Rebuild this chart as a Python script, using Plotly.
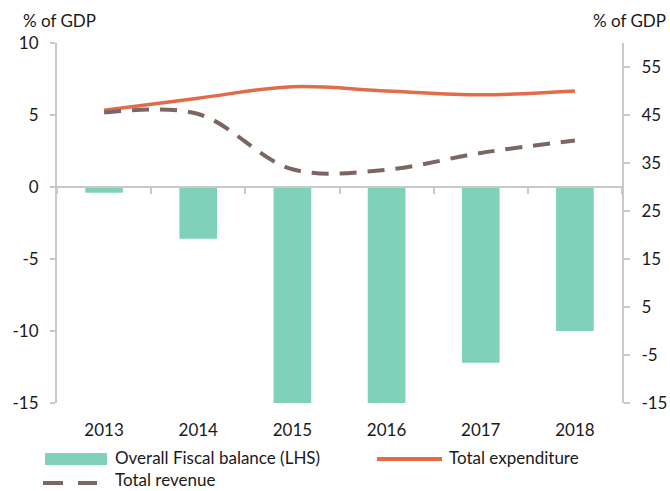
import plotly.graph_objects as go

years = ["2013", "2014", "2015", "2016", "2017", "2018"]
fiscal_balance = [-0.4, -3.6, -15.2, -15.2, -12.2, -10.0]
total_expenditure = [46.0, 48.5, 50.9, 50.0, 49.2, 50.0]
total_revenue = [45.5, 45.2, 33.7, 33.6, 37.1, 39.7]
left_ticks = [-15, -10, -5, 0, 5, 10]
right_ticks = [-15, -5, 5, 15, 25, 35, 45, 55]

BAR = "#7fd1b9"
EXP = "#e06c4a"
REV = "#7b6663"
AX = "#c9c9c9"
FONT = "Lato"
TXT = "#1a1a1a"
FS = 17

fig = go.Figure()
fig.add_trace(go.Bar(x=years, y=fiscal_balance, xaxis="x", yaxis="y",
                     marker=dict(color=BAR, line=dict(width=0)), width=0.4,
                     cliponaxis=False, name="Overall Fiscal balance (LHS)", showlegend=False))
fig.add_trace(go.Scatter(x=years, y=total_expenditure, xaxis="x", yaxis="y2", mode="lines",
                         line=dict(color=EXP, width=3.5, shape="spline", smoothing=1),
                         name="Total expenditure", showlegend=False))
fig.add_trace(go.Scatter(x=years, y=total_revenue, xaxis="x", yaxis="y2", mode="lines",
                         line=dict(color=REV, width=4, shape="spline", smoothing=1, dash="17px,11px"),
                         name="Total revenue", showlegend=False))
# helper (invisible) trace so the zero-line category axis is drawn
fig.add_trace(go.Scatter(x=years, y=fiscal_balance, xaxis="x2", yaxis="y", mode="markers",
                         marker=dict(opacity=0), hoverinfo="skip", showlegend=False))

L, R, T, B = 57, 48, 43, 88
W, H = 670, 491
pw = W - L - R
ph = H - T - B

def px(x):
    return (x - L) / pw

def py(y):
    return (H - B - y) / ph

fig.update_layout(
    width=W, height=H,
    margin=dict(l=L, r=R, t=T, b=B, autoexpand=False),
    plot_bgcolor="white", paper_bgcolor="white",
    font=dict(family=FONT, size=FS, color=TXT),
    xaxis=dict(type="category", categoryarray=years, range=[-0.5, 5.5], automargin=False,
               showline=False, showgrid=False, zeroline=False, ticks="",
               ticklabelstandoff=15, tickfont=dict(size=FS, color=TXT)),
    xaxis2=dict(type="category", categoryarray=years, range=[-0.5, 5.5], automargin=False,
                overlaying="x", anchor="free", position=0.6,
                showline=True, linecolor=AX, linewidth=2, ticks="outside",
                tickson="boundaries", ticklen=6, tickcolor=AX, tickwidth=2,
                showticklabels=False, showgrid=False, zeroline=False),
    yaxis=dict(range=[-15, 10], tickvals=left_ticks, ticktext=[str(v) for v in left_ticks],
               automargin=False, showline=True, linecolor=AX, linewidth=2,
               ticks="outside", ticklen=5, tickcolor=AX, tickwidth=2, showgrid=False,
               zeroline=False, ticklabelstandoff=8, tickfont=dict(size=FS, color=TXT)),
    yaxis2=dict(range=[-15, 60], tickvals=right_ticks, ticktext=[str(v) for v in right_ticks],
                automargin=False, overlaying="y", side="right",
                showline=True, linecolor=AX, linewidth=2, ticks="outside", ticklen=6,
                tickcolor=AX, tickwidth=2, showgrid=False, zeroline=False,
                ticklabelstandoff=8, tickfont=dict(size=FS, color=TXT)),
    showlegend=False,
)

# axis titles
fig.add_annotation(text="% of GDP", xref="paper", yref="paper", x=px(21), y=py(20),
                   xanchor="left", yanchor="middle", showarrow=False, font=dict(size=FS, color=TXT))
fig.add_annotation(text="% of GDP", xref="paper", yref="paper", x=px(668), y=py(20),
                   xanchor="right", yanchor="middle", showarrow=False, font=dict(size=FS, color=TXT))

# legend (manual)
fig.add_shape(type="rect", xref="paper", yref="paper", x0=px(45), x1=px(107), y0=py(465), y1=py(453),
              fillcolor=BAR, line=dict(width=0))
fig.add_annotation(text="Overall Fiscal balance (LHS)", xref="paper", yref="paper", x=px(113), y=py(458),
                   xanchor="left", yanchor="middle", showarrow=False, font=dict(size=FS, color=TXT))
fig.add_shape(type="line", xref="paper", yref="paper", x0=px(377), x1=px(442), y0=py(459), y1=py(459),
              line=dict(color=EXP, width=4))
fig.add_annotation(text="Total expenditure", xref="paper", yref="paper", x=px(447), y=py(458),
                   xanchor="left", yanchor="middle", showarrow=False, font=dict(size=FS, color=TXT))
fig.add_shape(type="line", xref="paper", yref="paper", x0=px(43), x1=px(63), y0=py(483), y1=py(483),
              line=dict(color=REV, width=4))
fig.add_shape(type="line", xref="paper", yref="paper", x0=px(78), x1=px(97), y0=py(483), y1=py(483),
              line=dict(color=REV, width=4))
fig.add_annotation(text="Total revenue", xref="paper", yref="paper", x=px(114), y=py(480),
                   xanchor="left", yanchor="middle", showarrow=False, borderpad=0,
                   font=dict(size=FS, color=TXT))

fig.write_html("out.html", config={"displayModeBar": False},
               post_script="document.body.style.margin='0';document.body.style.overflow='hidden';")
